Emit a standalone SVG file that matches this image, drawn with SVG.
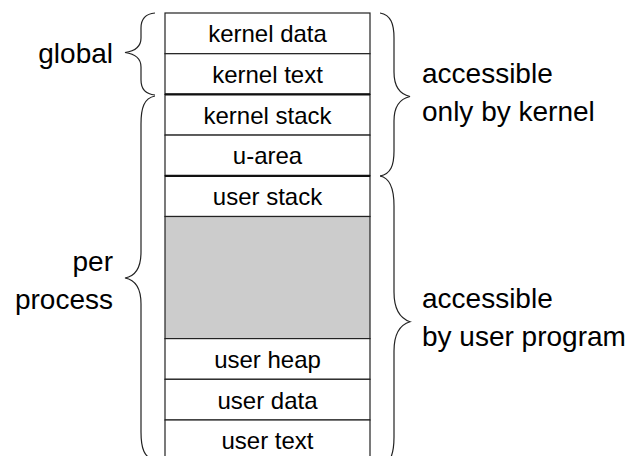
<svg xmlns="http://www.w3.org/2000/svg" width="631" height="456" viewBox="0 0 631 456">
<style>
.cell{fill:#ffffff;stroke:#222222;stroke-width:1.2}
.gap{fill:#cccccc;stroke:#222222;stroke-width:1.2}
.lbl{font-family:"Liberation Sans",Arial,sans-serif;font-size:24px;fill:#000000;text-anchor:middle}
.side{font-family:"Liberation Sans",Arial,sans-serif;font-size:28px;fill:#000000}
.brace{fill:none;stroke:#222222;stroke-width:1.2}
.thick{stroke:#111111;stroke-width:2.2}
</style>
<rect x="0" y="0" width="631" height="456" fill="#ffffff"/>
<g id="kernel-data"><rect class="cell" x="165" y="13" width="205" height="40.7"/><text class="lbl" x="267.5" y="42.3">kernel data</text></g>
<g id="kernel-text"><rect class="cell" x="165" y="53.7" width="205" height="40.7"/><text class="lbl" x="267.5" y="83">kernel text</text></g>
<g id="kernel-stack"><rect class="cell" x="165" y="94.4" width="205" height="40.7"/><text class="lbl" x="267.5" y="123.7">kernel stack</text></g>
<g id="u-area"><rect class="cell" x="165" y="135.1" width="205" height="40.7"/><text class="lbl" x="267.5" y="164.4">u-area</text></g>
<g id="user-stack"><rect class="cell" x="165" y="175.8" width="205" height="40.7"/><text class="lbl" x="267.5" y="205.1">user stack</text></g>
<g id="free-space"><rect class="gap" x="165" y="216.5" width="205" height="122.1"/></g>
<g id="user-heap"><rect class="cell" x="165" y="338.6" width="205" height="40.7"/><text class="lbl" x="267.5" y="368">user heap</text></g>
<g id="user-data"><rect class="cell" x="165" y="379.3" width="205" height="40.7"/><text class="lbl" x="267.5" y="408.7">user data</text></g>
<g id="user-text"><rect class="cell" x="165" y="420" width="205" height="40.7"/><text class="lbl" x="267.5" y="449.4">user text</text></g>
<g id="separators">
<line class="thick" x1="165" y1="94.4" x2="370" y2="94.4"/>
<line class="thick" x1="165" y1="175.8" x2="370" y2="175.8"/>
</g>
<g id="connectors">
<path class="brace" d="M155,13 C144,14 141,20 141,28 L141,38 C141,46 136,51 125,52.5 C136,54 141,59 141,67 L141,80 C141,88 144,94 155,95"/>
<path class="brace" d="M155,96 C144,98 141,108 141,124 L141,252 C141,268 136,276 125,278 C136,280 141,288 141,304 L141,432 C141,448 144,458 155,460"/>
<path class="brace" d="M380,13 C391,15 394,24 394,38 L394,72 C394,86 399,94 410,96.5 C399,99 394,107 394,121 L394,151 C394,165 391,174 380,176"/>
<path class="brace" d="M380,176 C391,178 394,190 394,206 L394,292 C394,308 399,318 410,321.7 C399,325 394,335 394,351 L394,437 C394,453 391,465 380,467"/>
</g>
<g id="label-global"><text class="side" x="113" y="63" text-anchor="end">global</text></g>
<g id="label-per-process"><text class="side" x="113" y="271" text-anchor="end">per</text><text class="side" x="113" y="309" text-anchor="end">process</text></g>
<g id="label-kernel-only"><text class="side" x="422" y="83">accessible</text><text class="side" x="422" y="121">only by kernel</text></g>
<g id="label-user"><text class="side" x="422" y="308">accessible</text><text class="side" x="422" y="346">by user program</text></g>
</svg>
